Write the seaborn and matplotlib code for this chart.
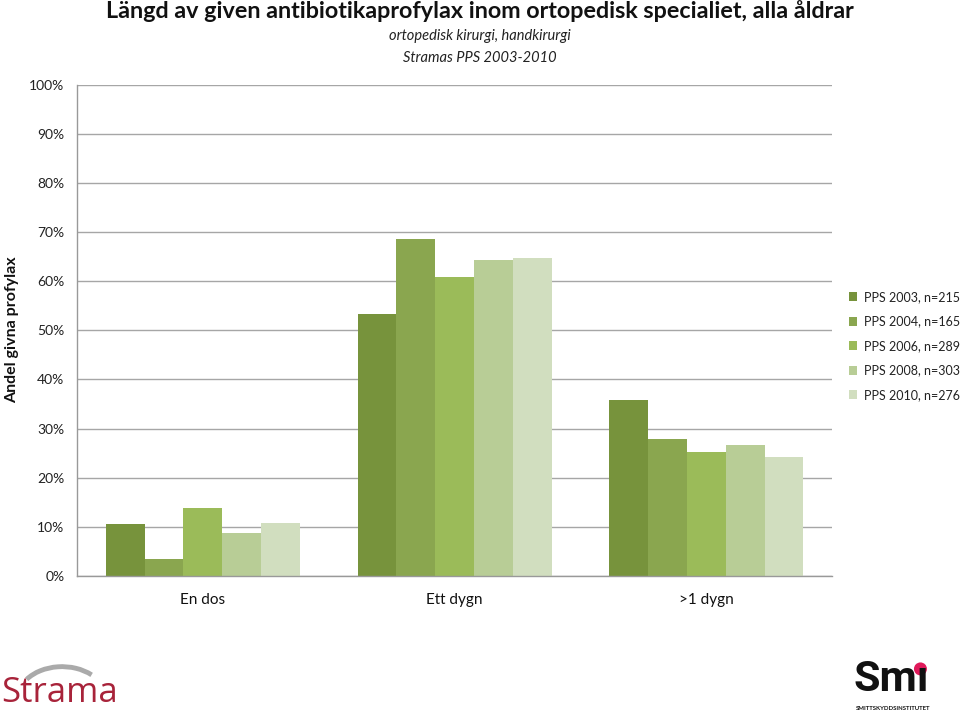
import matplotlib
matplotlib.use("Agg")
import matplotlib.pyplot as plt
import seaborn as sns
import pandas as pd
import numpy as np
from matplotlib.patches import Arc, Ellipse

categories = ["En dos", "Ett dygn", ">1 dygn"]
series = ["PPS 2003, n=215", "PPS 2004, n=165", "PPS 2006, n=289",
          "PPS 2008, n=303", "PPS 2010, n=276"]
v2003 = [10.5, 53.4, 35.8]
v2004 = [3.4, 68.5, 27.8]
v2006 = [13.8, 60.9, 25.2]
v2008 = [8.7, 64.3, 26.7]
v2010 = [10.8, 64.8, 24.2]
colors = ["#77933C", "#8AA64F", "#9BBB59", "#B8CD96", "#D1DEBF"]
yticks = [0, 10, 20, 30, 40, 50, 60, 70, 80, 90, 100]
yticklabels = [f"{t}%" for t in yticks]

rows = []
for s, vals in zip(series, [v2003, v2004, v2006, v2008, v2010]):
    for c, v in zip(categories, vals):
        rows.append({"cat": c, "series": s, "val": v})
df = pd.DataFrame(rows)

sns.set_theme(style="white")
plt.rcParams["font.family"] = ["Lato", "DejaVu Sans"]

fig = plt.figure(figsize=(9.6, 7.12), dpi=100)
ax = fig.add_axes([0.08, 0.191, 0.787, 0.690])

sns.barplot(data=df, x="cat", y="val", hue="series", order=categories,
            hue_order=series, palette=colors, width=0.77, linewidth=0,
            saturation=1, ax=ax, errorbar=None)

ax.set_xlim(-0.5, 2.5)
ax.set_ylim(0, 100)
ax.set_yticks(yticks)
ax.set_yticklabels(yticklabels, fontsize=10, color="#222222")
ax.tick_params(axis="y", length=5, color="#999999", width=1, pad=4)
ax.tick_params(axis="x", length=0, labelsize=11, pad=12)
for lbl in ax.get_xticklabels():
    lbl.set_color("#111111")
ax.yaxis.grid(True, color="#A6A6A6", linewidth=1)
ax.set_axisbelow(True)
for side in ["top", "right"]:
    ax.spines[side].set_visible(False)
for side in ["left", "bottom"]:
    ax.spines[side].set_color("#999999")
    ax.spines[side].set_linewidth(1)
ax.set_xlabel("")
ax.set_ylabel("")
fig.text(0.0125, 0.537, "Andel givna profylax", rotation=90, ha="center",
         va="center", fontsize=11.5, fontweight="bold", color="#111111")

leg = ax.legend(loc="upper left", bbox_to_anchor=(1.015, 0.59), frameon=False,
                fontsize=9, handlelength=0.7, handleheight=0.7,
                handletextpad=0.5, labelspacing=1.0, borderaxespad=0)
for t in leg.get_texts():
    t.set_color("#222222")

fig.text(0.5, 0.984, "Längd av given antibiotikaprofylax inom ortopedisk specialiet, alla åldrar",
         ha="center", va="center", fontsize=16.8, fontweight="bold", color="#111111")
fig.text(0.5, 0.950, "ortopedisk kirurgi, handkirurgi", ha="center", va="center",
         fontsize=10.5, style="italic", color="#222222")
fig.text(0.5, 0.919, "Stramas PPS 2003-2010", ha="center", va="center",
         fontsize=10.5, style="italic", color="#222222")

# Strama logo
fig.text(0.001, 0.003, "Strama", ha="left", va="bottom", fontsize=25,
         color="#A8233A", family=["Open Sans", "DejaVu Sans"])
lax = fig.add_axes([0.0, 0.0, 0.125, 0.075])
lax.set_xlim(0, 120)
lax.set_ylim(0, 53)
lax.axis("off")
lax.add_patch(Arc((62, 12), 90, 66, theta1=40, theta2=150,
                  color="#AAAAAA", linewidth=3.5))

# Smi logo
smi = fig.text(0.889, 0.017, "Sm\u0131", ha="left", va="bottom", fontsize=31,
               fontweight="bold", color="#111111", family=["Roboto", "DejaVu Sans"])
fig.text(0.892, 0.002, "SMITTSKYDDSINSTITUTET", ha="left", va="bottom",
         fontsize=4.3, fontweight="bold", color="#111111")
renderer = fig.canvas.get_renderer()
bb = smi.get_window_extent(renderer)
stem_x = (bb.x1 - 8.5) / fig.bbox.width
fig.patches.append(Ellipse((stem_x, 0.0605), 13 / 960, 13 / 712,
                           transform=fig.transFigure,
                           facecolor="#E0195A", edgecolor="none"))

fig.savefig("out.png", dpi=100, facecolor="white")
